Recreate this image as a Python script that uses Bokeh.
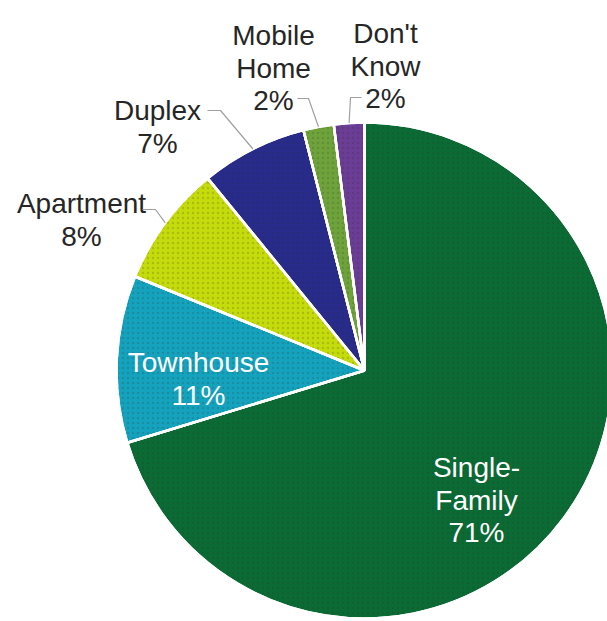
import math

from bokeh.core.properties import value
from bokeh.embed import file_html
from bokeh.models import ColumnDataSource, Range1d
from bokeh.plotting import figure
from bokeh.resources import INLINE

# Housing type shares (percent), clockwise from 12 o'clock
categories = ["Single-Family", "Townhouse", "Apartment", "Duplex", "Mobile Home", "Don't Know"]
shares = [71, 11, 8, 7, 2, 2]
label_lines = [["Single-", "Family"], ["Townhouse"], ["Apartment"], ["Duplex"], ["Mobile", "Home"], ["Don't", "Know"]]
colors = ["#0a6b35", "#14a3bf", "#c5dc0c", "#272b8c", "#6ea33c", "#6a3d96"]

W, H = 607, 621
CX, CY, R = 364, H - 370, 248
FONT = "Liberation Sans"
LINE_GAP = 32.5

p = figure(width=W, height=H, output_backend="svg", toolbar_location=None,
           x_range=Range1d(0, W), y_range=Range1d(0, H),
           x_axis_type=None, y_axis_type=None, min_border=0)
p.outline_line_color = None
p.grid.visible = False
p.background_fill_color = "white"
p.border_fill_color = "white"

total = float(sum(shares))
starts, ends, mids = [], [], []
acc = 0.0
for s in shares:
    a0 = math.pi / 2 - 2 * math.pi * acc / total
    acc += s
    a1 = math.pi / 2 - 2 * math.pi * acc / total
    starts.append(a0)
    ends.append(a1)
    mids.append((a0 + a1) / 2)

src = ColumnDataSource(dict(cat=categories, start=starts, end=ends, color=colors))
p.wedge(x=CX, y=CY, radius=R, start_angle="start", end_angle="end", direction="clock",
        fill_color="color", line_color="white", line_width=2.5, source=src)
# fine stipple over the slices
p.wedge(x=CX, y=CY, radius=R, start_angle="start", end_angle="end", direction="clock",
        fill_alpha=0, line_color=None, hatch_pattern=".", hatch_scale=5,
        hatch_weight=1, hatch_color="#3a2a10", hatch_alpha=0.18, source=src)
p.wedge(x=CX, y=CY, radius=R, start_angle="start", end_angle="end", direction="clock",
        fill_alpha=0, line_color="white", line_width=2.5, source=src)

# label placement: (centre x, first baseline y) in page pixels, text colour
label_pos = {
    "Single-Family": (476, 467, "white"),
    "Townhouse": (198, 362, "white"),
    "Apartment": (81, 203, "#262626"),
    "Duplex": (157, 110, "#262626"),
    "Mobile Home": (273, 35, "#262626"),
    "Don't Know": (385, 33, "#262626"),
}
# leader lines: (text end x, elbow x, elbow y) in page pixels
leaders = {
    "Apartment": (142, 155, 209),
    "Duplex": (207, 220, 110),
    "Mobile Home": (297, 308, 98),
    "Don't Know": (361, 350, 97),
}

tx, ty, tt, tc = [], [], [], []
for cat, lines, s in zip(categories, label_lines, shares):
    x0, y0, col = label_pos[cat]
    for k, t in enumerate(lines + [f"{s}%"]):
        tx.append(x0)
        ty.append(H - (y0 + k * LINE_GAP))
        tt.append(t)
        tc.append(col)
p.text(x=tx, y=ty, text=tt, text_color=tc, text_align="center", text_baseline="alphabetic",
       text_font=value(FONT), text_font_size="28px")

for cat, mid in zip(categories, mids):
    if cat not in leaders:
        continue
    x_end, x_elb, y_elb = leaders[cat]
    ax = CX + R * math.cos(mid)
    ay = CY + R * math.sin(mid)
    p.line(x=[x_end, x_elb, ax], y=[H - y_elb, H - y_elb, ay], line_color="#a0a0a0", line_width=1.2)

open("out.html", "w").write(file_html(p, INLINE))
